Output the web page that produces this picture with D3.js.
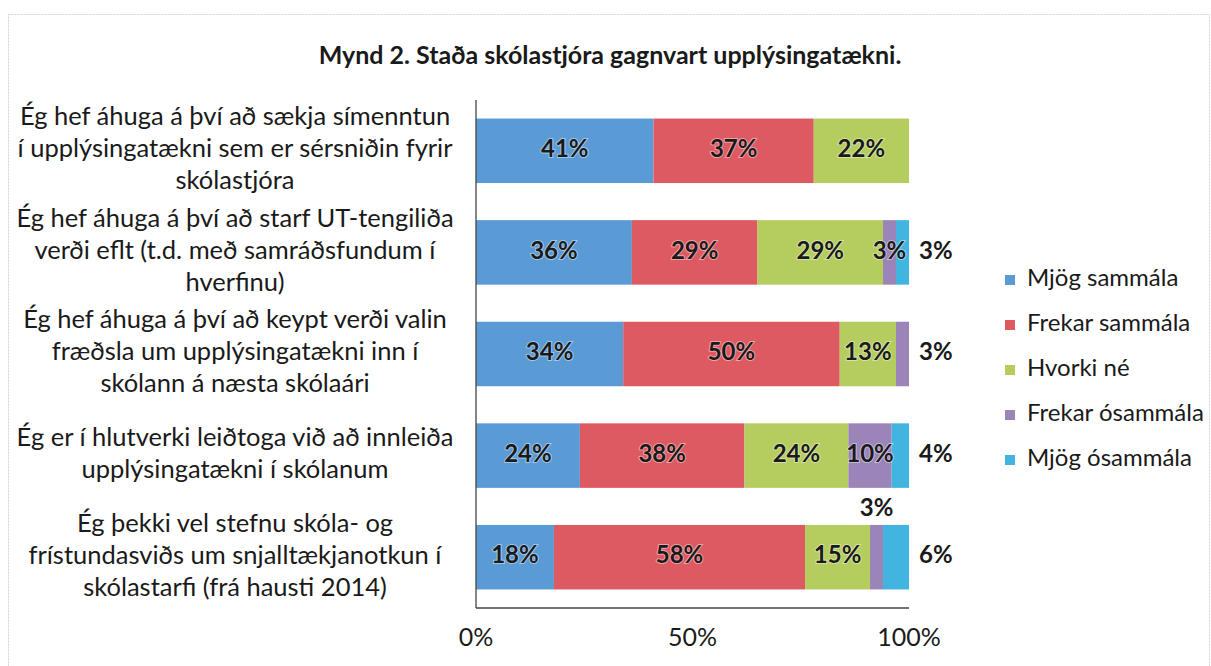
<!DOCTYPE html>
<html>
<head>
<meta charset="utf-8">
<script src="https://cdn.jsdelivr.net/npm/d3@7"></script>
<style>
  body { margin: 0; background: #fff; }
  text { font-family: Lato, "Noto Sans", sans-serif; fill: #1a1a1a; }
</style>
</head>
<body>
<svg width="1211" height="666"></svg>
<script>
// Chart data (percent of respondents)
const statements = [
  ["Ég hef áhuga á því að sækja símenntun", "í upplýsingatækni sem er sérsniðin fyrir", "skólastjóra"],
  ["Ég hef áhuga á því að starf UT-tengiliða", "verði eflt (t.d. með samráðsfundum í", "hverfinu)"],
  ["Ég hef áhuga á því að keypt verði valin", "fræðsla um upplýsingatækni inn í", "skólann á næsta skólaári"],
  ["Ég er í hlutverki leiðtoga við að innleiða", "upplýsingatækni í skólanum"],
  ["Ég þekki vel stefnu skóla- og", "frístundasviðs um snjalltækjanotkun í", "skólastarfi (frá hausti 2014)"]
];
const seriesNames = ["Mjög sammála", "Frekar sammála", "Hvorki né", "Frekar ósammála", "Mjög ósammála"];
const mjogSammala    = [41, 36, 34, 24, 18];
const frekarSammala  = [37, 29, 50, 38, 58];
const hvorkiNe       = [22, 29, 13, 24, 15];
const frekarOsammala = [0, 3, 3, 10, 3];
const mjogOsammala   = [0, 3, 0, 4, 6];
const xTicks = [0, 50, 100];
const colors = ["#5b9bd5", "#de5a63", "#b5cc5f", "#9a84b8", "#41b4df"];

const svg = d3.select("svg");

// build rows for d3.stack
const values = [mjogSammala, frekarSammala, hvorkiNe, frekarOsammala, mjogOsammala];
const rows = statements.map((s, i) => {
  const r = { i: i };
  seriesNames.forEach((n, k) => r[n] = values[k][i]);
  return r;
});
const stacked = d3.stack().keys(seriesNames)(rows);

const x = d3.scaleLinear().domain([0, 100]).range([476, 909]);
const y = d3.scaleBand()
  .domain(d3.range(statements.length))
  .range([100, 608])
  .paddingInner(0.365)
  .paddingOuter(0.1825);
const color = d3.scaleOrdinal().domain(seriesNames).range(colors);

// faint frame round the chart
svg.append("rect")
  .attr("x", 8.5).attr("y", 14.5)
  .attr("width", 1201).attr("height", 700)
  .attr("fill", "none")
  .attr("stroke", "#d4d4d4")
  .attr("stroke-dasharray", "2,1");

// title
svg.append("text")
  .attr("x", 610).attr("y", 58)
  .attr("text-anchor", "middle")
  .attr("dominant-baseline", "middle")
  .style("font-size", "25px")
  .style("font-weight", "bold")
  .text("Mynd 2. Staða skólastjóra gagnvart upplýsingatækni.");

// bars
const layer = svg.selectAll(".layer")
  .data(stacked)
  .enter().append("g")
    .attr("class", "layer")
    .attr("fill", d => color(d.key));

layer.selectAll("rect")
  .data(d => d)
  .enter().append("rect")
    .attr("x", d => x(d[0]))
    .attr("y", d => y(d.data.i))
    .attr("width", d => x(d[1]) - x(d[0]))
    .attr("height", y.bandwidth());

// data labels: inside, to the right of the bar, or above a thin segment
function labelPos(layerIndex, d) {
  const row = d.data.i;
  if (layerIndex === 4) return "right";
  if (layerIndex === 3) {
    const next = values[4][row];
    if (next === 0) return "right";
    if (next > 4) return "above";
  }
  return "inside";
}

const labels = [];
stacked.forEach((s, k) => {
  s.forEach(d => {
    const v = d[1] - d[0];
    if (v > 0) labels.push({ v: v, pos: labelPos(k, d), d: d });
  });
});

svg.append("g").selectAll("text")
  .data(labels)
  .enter().append("text")
    .attr("x", l => l.pos === "right" ? x(100) + 10 : x((l.d[0] + l.d[1]) / 2))
    .attr("y", l => l.pos === "above"
      ? y(l.d.data.i) - 15
      : y(l.d.data.i) + y.bandwidth() / 2)
    .attr("text-anchor", l => l.pos === "right" ? "start" : "middle")
    .attr("dominant-baseline", "middle")
    .style("font-size", "24px")
    .style("font-weight", "bold")
    .style("stroke", l => l.pos === "inside" ? "rgba(255,255,255,0.45)" : "none")
    .style("stroke-width", 2)
    .style("paint-order", "stroke")
    .text(l => l.v + "%");

// axes lines
svg.append("line")
  .attr("x1", x(0)).attr("x2", x(0))
  .attr("y1", y.range()[0]).attr("y2", y.range()[1])
  .attr("stroke", "#444").attr("stroke-width", 1.3);
svg.append("line")
  .attr("x1", x(0)).attr("x2", x(100))
  .attr("y1", y.range()[1]).attr("y2", y.range()[1])
  .attr("stroke", "#444").attr("stroke-width", 1.3);

// x tick labels
svg.append("g").selectAll("text")
  .data(xTicks)
  .enter().append("text")
    .attr("x", d => x(d))
    .attr("y", 640)
    .attr("text-anchor", "middle")
    .attr("dominant-baseline", "middle")
    .style("font-size", "25px")
    .text(d => d + "%");

// category labels, centred on each bar, wrapped as in the original
const lineH = 32;
const cat = svg.append("g").selectAll("text")
  .data(statements)
  .enter().append("text")
    .attr("text-anchor", "middle")
    .style("font-size", "25.5px");
cat.selectAll("tspan")
  .data((d, i) => d.map((t, j) => ({ t: t, j: j, n: d.length, i: i })))
  .enter().append("tspan")
    .attr("x", 235)
    .attr("y", d => y(d.i) + y.bandwidth() / 2 + (d.j - (d.n - 1) / 2) * lineH)
    .attr("dominant-baseline", "middle")
    .text(d => d.t);

// legend
const legend = svg.append("g").selectAll("g")
  .data(seriesNames)
  .enter().append("g")
    .attr("transform", (d, i) => `translate(1005,${280 + i * 45})`);
legend.append("rect")
  .attr("y", -5).attr("width", 10).attr("height", 10)
  .attr("fill", d => color(d));
legend.append("text")
  .attr("x", 22)
  .attr("dominant-baseline", "middle")
  .style("font-size", "24px")
  .text(d => d);
</script>
</body>
</html>
